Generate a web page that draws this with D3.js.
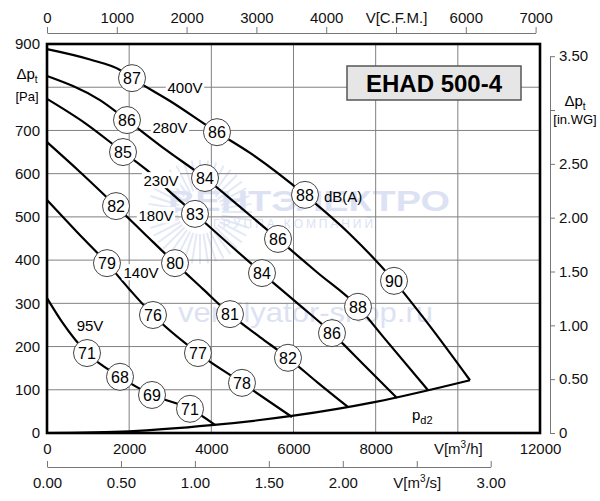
<!DOCTYPE html>
<html>
<head>
<meta charset="utf-8">
<script src="https://cdn.jsdelivr.net/npm/d3@7"></script>
<style>
  body { margin: 0; background: #fff; }
  svg { font-family: "Liberation Sans", Arial, sans-serif; }
</style>
</head>
<body>
<svg id="chart" width="600" height="501"></svg>
<script>
// fan curves, flow in m3/h, total pressure in Pa
var curve400 = [[0,888],[1047,864],[1777,840],[2069,821],[2994,768],[4138,696],[4941,648],[6280,551],[7375,460],[8446,352],[9152,268],[10296,122]];
var curve280 = [[0,826],[1290,770],[1947,724],[2897,655],[3846,590],[4698,523],[5623,449],[6572,372],[7570,292],[8179,223],[9274,99]];
var curve230 = [[0,773],[925,717],[1850,650],[2434,608],[2945,562],[3602,507],[4454,435],[5233,370],[6085,301],[6937,231],[7741,155],[8519,81]];
var curve180 = [[0,673],[803,604],[1680,525],[2385,460],[3116,393],[3797,333],[4454,275],[5184,222],[5866,174],[6596,116],[7327,60]];
var curve140 = [[0,539],[730,465],[1460,393],[2020,331],[2580,273],[3675,185],[4746,116],[5963,37]];
var curve95  = [[0,312],[365,257],[974,185],[1777,130],[2556,88],[3481,56],[4089,19]];
var curvePd2 = [[0,0],[2000,4],[4000,18],[6000,40],[8000,72],[10296,122]];

// sound level markers dB(A): [flow, pressure, level]
var db400 = [[2069,821,87],[4138,696,86],[6280,551,88],[8446,352,90]];
var db280 = [[1947,724,86],[3846,590,84],[5623,449,86],[7570,292,88]];
var db230 = [[1850,650,85],[3602,507,83],[5233,370,84],[6937,231,86]];
var db180 = [[1680,525,82],[3116,393,80],[4454,275,81],[5866,174,82]];
var db140 = [[1460,393,79],[2580,273,76],[3675,185,77],[4746,116,78]];
var db95  = [[974,185,71],[1777,130,68],[2556,88,69],[3481,56,71]];

// voltage labels: [flow, pressure, text]
var voltLabels = [[3359,800,"400V"],[2994,706,"280V"],[2775,585,"230V"],[2653,504,"180V"],[2288,372,"140V"],[1047,248,"95V"]];

var flowTicks = [0,2000,4000,6000,8000,10000,12000];
var paTicks = [0,100,200,300,400,500,600,700,800,900];
var cfmTicks = [0,1000,2000,3000,4000,5000,6000,7000];
var m3sTicks = [0,0.5,1,1.5,2,2.5,3];
var wgTicks = [0,0.5,1,1.5,2,2.5,3,3.5];

var svg = d3.select("#chart");

var x = d3.scaleLinear().domain([0,12000]).range([47,540]);
var y = d3.scaleLinear().domain([0,900]).range([433,44]);
var xCfm = d3.scaleLinear().domain([0,7000]).range([x(0), x(7000*1.699011)]);
var xM3s = d3.scaleLinear().domain([0,3]).range([x(0), x(3*3600)]);
var yWg = d3.scaleLinear().domain([0,3.5]).range([y(0), y(3.5*249.089)]);

// watermark
var wm = svg.append("g").attr("fill", "#c5d0ec").attr("opacity", 0.6);
for (var a = 0; a < 360; a += 9) {
    var r = a * Math.PI / 180;
    wm.append("line")
        .attr("x1", 200 + 22*Math.cos(r)).attr("y1", 212 + 22*Math.sin(r))
        .attr("x2", 200 + 52*Math.cos(r)).attr("y2", 212 + 52*Math.sin(r))
        .attr("stroke", "#d3dbf1").attr("stroke-width", 2);
}
wm.append("text").attr("x", 168).attr("y", 211).attr("font-size", 29).attr("font-weight", "bold")
    .attr("textLength", 282).attr("lengthAdjust", "spacingAndGlyphs").text("ВЕНТЭЛЕКТРО");
wm.append("text").attr("x", 213).attr("y", 228).attr("font-size", 12)
    .attr("textLength", 160).text("ГРУППА КОМПАНИЙ");
wm.append("text").attr("x", 178).attr("y", 322).attr("font-size", 28)
    .attr("textLength", 255).attr("lengthAdjust", "spacingAndGlyphs").text("ventilyator-shop.ru");

// grid
var grid = svg.append("g").attr("stroke", "#808080").attr("stroke-width", 1);
grid.selectAll("line.v").data(flowTicks.slice(1, -1)).enter().append("line")
    .attr("x1", d => x(d)).attr("x2", d => x(d)).attr("y1", y(900)).attr("y2", y(0));
grid.selectAll("line.h").data(paTicks.slice(1, -1)).enter().append("line")
    .attr("y1", d => y(d)).attr("y2", d => y(d)).attr("x1", x(0)).attr("x2", x(12000));

// title box
svg.append("rect").attr("x", 347).attr("y", 66).attr("width", 174).attr("height", 34)
    .attr("fill", "#e6e6e6").attr("stroke", "#555").attr("stroke-width", 1.5);
svg.append("text").attr("x", 434).attr("y", 92).attr("text-anchor", "middle")
    .attr("font-size", 24).attr("font-weight", "bold").text("EHAD 500-4");

// curves
var line = d3.line().x(d => x(d[0])).y(d => y(d[1])).curve(d3.curveMonotoneX);
var curves = [curve400, curve280, curve230, curve180, curve140, curve95, curvePd2];
svg.append("g").selectAll("path").data(curves).enter().append("path")
    .attr("d", line).attr("fill", "none").attr("stroke", "#000").attr("stroke-width", 2.2);

// voltage labels
var vl = svg.append("g").selectAll("g").data(voltLabels).enter().append("g")
    .attr("transform", d => "translate(" + x(d[0]) + "," + y(d[1]) + ")");
vl.append("rect").attr("x", d => -d[2].length*4.3 - 2).attr("y", -8)
    .attr("width", d => d[2].length*8.6 + 4).attr("height", 16).attr("fill", "#fff");
vl.append("text").attr("text-anchor", "middle").attr("dy", "0.36em").attr("font-size", 15).text(d => d[2]);

svg.append("text").attr("x", x(6742)).attr("y", y(546)).attr("dy", "0.36em")
    .attr("font-size", 15).text("dB(A)");
var pd = svg.append("text").attr("x", x(8884)).attr("y", y(42)).attr("dy", "0.36em").attr("font-size", 15);
pd.append("tspan").text("p");
pd.append("tspan").attr("font-size", 11).attr("dy", 4).text("d2");

// dB markers
var markers = [].concat(db400, db280, db230, db180, db140, db95);
var mk = svg.append("g").selectAll("g").data(markers).enter().append("g")
    .attr("transform", d => "translate(" + x(d[0]) + "," + y(d[1]) + ")");
mk.append("circle").attr("r", 13.5).attr("fill", "#fff").attr("stroke", "#444").attr("stroke-width", 1);
mk.append("text").attr("text-anchor", "middle").attr("dy", "0.36em").attr("font-size", 16).text(d => d[2]);

// plot border
svg.append("rect").attr("x", x(0)).attr("y", y(900)).attr("width", x(12000) - x(0)).attr("height", y(0) - y(900))
    .attr("fill", "none").attr("stroke", "#000").attr("stroke-width", 2.6);

// axis label helpers
function supLabel(sel, pre, sup, post) {
    sel.text(null);
    sel.append("tspan").text(pre);
    sel.append("tspan").attr("font-size", 10).attr("dy", -6).text(sup);
    sel.append("tspan").attr("dy", 6).text(post);
}
function styleAxis(g) {
    g.select(".domain").attr("stroke", "#777");
    g.selectAll(".tick line").attr("stroke", "#777");
    g.selectAll(".tick text").attr("font-size", 15).attr("fill", "#111").attr("font-family", null);
}

// top axis, C.F.M.
var gTop = svg.append("g").attr("transform", "translate(0,33)")
    .call(d3.axisTop(xCfm).tickValues(cfmTicks).tickSize(6).tickSizeOuter(0)
        .tickFormat(d => d === 5000 ? "V[C.F.M.]" : d));
styleAxis(gTop);
gTop.selectAll(".tick text").attr("dy", "-0.1em");

// bottom axis m3/h, labels only
var gBot = svg.append("g").attr("transform", "translate(0,433)")
    .call(d3.axisBottom(x).tickValues(flowTicks).tickSize(0).tickPadding(10)
        .tickFormat(d => d === 10000 ? "" : d));
styleAxis(gBot);
gBot.select(".domain").remove();
gBot.selectAll(".tick").filter(d => d === 10000).select("text")
    .call(s => supLabel(s, "V[m", "3", "/h]"));

// bottom axis m3/s
var gSec = svg.append("g").attr("transform", "translate(0,467)")
    .call(d3.axisTop(xM3s).tickValues(m3sTicks).tickSize(6).tickSizeOuter(0)
        .tickFormat(d => d === 2.5 ? "" : d3.format(".2f")(d)));
styleAxis(gSec);
gSec.selectAll(".tick text").attr("transform", "translate(0,30)");
gSec.selectAll(".tick").filter(d => d === 2.5).select("text")
    .call(s => supLabel(s, "V[m", "3", "/s]"));

// left axis Pa, labels only
var gLeft = svg.append("g").attr("transform", "translate(" + x(0) + ",0)")
    .call(d3.axisLeft(y).tickValues(paTicks.filter(d => d !== 800)).tickSize(0).tickPadding(7));
styleAxis(gLeft);
gLeft.select(".domain").remove();
var lp = svg.append("text").attr("x", 27).attr("y", 79).attr("text-anchor", "middle").attr("font-size", 15);
lp.append("tspan").text("Δp");
lp.append("tspan").attr("font-size", 10).attr("dy", 4).text("t");
svg.append("text").attr("x", 27).attr("y", 101).attr("text-anchor", "middle").attr("font-size", 13).text("[Pa]");

// right axis in.WG
var gRight = svg.append("g").attr("transform", "translate(550,0)")
    .call(d3.axisRight(yWg).tickValues(wgTicks).tickSize(5).tickSizeOuter(0).tickPadding(4)
        .tickFormat(d => d === 3 ? "" : (d === 0 ? "0" : d3.format(".2f")(d))));
styleAxis(gRight);
var rp = svg.append("text").attr("x", 575).attr("y", 106).attr("text-anchor", "middle").attr("font-size", 15);
rp.append("tspan").text("Δp");
rp.append("tspan").attr("font-size", 10).attr("dy", 4).text("t");
svg.append("text").attr("x", 575).attr("y", 124).attr("text-anchor", "middle").attr("font-size", 13).text("[in.WG]");
</script>
</body>
</html>
